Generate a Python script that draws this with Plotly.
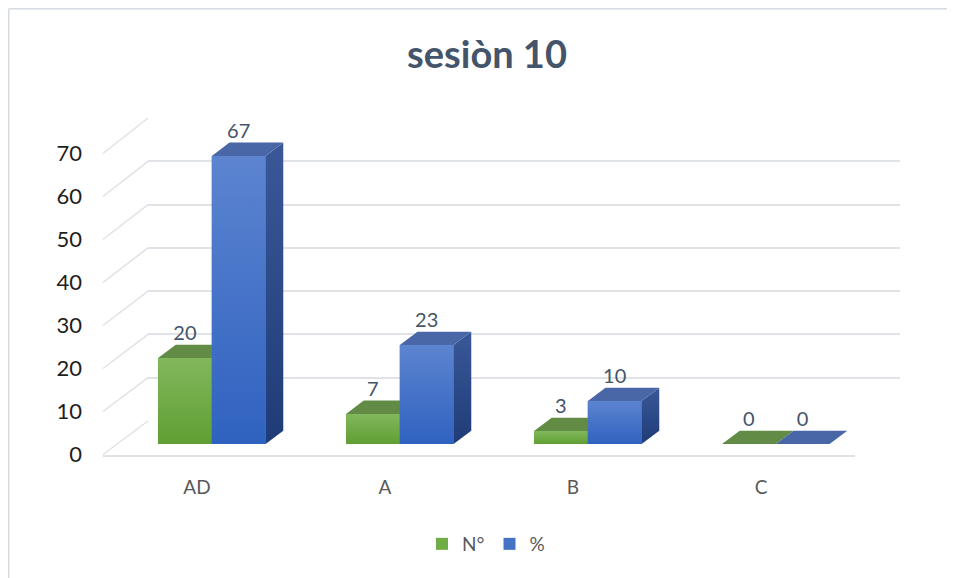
import plotly.graph_objects as go

# ---------------- data ----------------
categories = ["AD", "A", "B", "C"]
n_values = [20, 7, 3, 0]          # N°
pct_values = [67, 23, 10, 0]      # %
series_names = ["N°", "%"]
y_ticks = [0, 10, 20, 30, 40, 50, 60, 70]

# ---------------- styling / geometry ----------------
OFF = 8                      # page body margin
W, H = 955 - OFF, 578 - OFF
FONT = "Lato"


def px(x):
    return (x - OFF) / W


def py(y):
    return 1 - (y - OFF) / H


# front plane (tick labels), back wall (grid), middle plane (bars) in screen pixels
FRONT_X = (103, 855)
FRONT_Y = (454.5, 153.5)
BACK_X = (148, 900)
BACK_Y = (421, 118)
BAR_X = (117.8, 869.8)
BAR_BASE = 444
Y_MAX = 70
BAR_AX_MAX = 85              # extra headroom so labels stay inside the bar axis
BARGAP = 0.428
DEPTH_PX = (17.7, 13.3)

cat_px = (BAR_X[1] - BAR_X[0]) / len(categories)
unit_px = (FRONT_Y[0] - FRONT_Y[1]) / Y_MAX
BAR_TOP = BAR_BASE - unit_px * BAR_AX_MAX
DX = DEPTH_PX[0] / cat_px
DY = DEPTH_PX[1] / unit_px
BW = (1 - BARGAP) / 2

grid_col = "#dfe2e7"
green = dict(bar="#70ad47", top_face="#628c45", side_top="#4f7a35", side_bot="#3d6a26",
             front_top="#82b85c", front_bot="#5f9f33")
blue = dict(bar="#4472c4", top_face="#4966a6", side_top="#3a5898", side_bot="#1f3c78",
            front_top="#5c84d0", front_bot="#2f62c0")
styles = [green, blue]
series = [n_values, pct_values]

fig = go.Figure()

# legend-carrying bar traces (front faces)
for name, vals, st in zip(series_names, series, styles):
    fig.add_trace(go.Bar(x=list(range(len(categories))), y=vals, name=name,
                         marker=dict(color=st["bar"], line=dict(width=0)),
                         xaxis="x3", yaxis="y3", hoverinfo="skip"))

# 3D faces computed from the values
for ci in range(len(categories)):
    for si, (vals, st) in enumerate(zip(series, styles)):
        v = vals[ci]
        xl = ci + (si - 1) * BW
        xr = xl + BW
        if v > 0:
            # front face with vertical gradient
            fig.add_trace(go.Scatter(
                x=[xl, xr, xr, xl, xl], y=[0, 0, v, v, 0], fill="toself", mode="none",
                fillcolor=st["bar"],
                fillgradient=dict(type="vertical",
                                  colorscale=[[0, st["front_bot"]], [1, st["front_top"]]]),
                xaxis="x3", yaxis="y3", showlegend=False, hoverinfo="skip"))
            # side face
            fig.add_trace(go.Scatter(
                x=[xr, xr + DX, xr + DX, xr, xr], y=[0, DY, v + DY, v, 0],
                fill="toself", mode="none", fillcolor=st["side_bot"],
                fillgradient=dict(type="vertical",
                                  colorscale=[[0, st["side_bot"]], [1, st["side_top"]]]),
                xaxis="x3", yaxis="y3", showlegend=False, hoverinfo="skip"))
        # top face
        fig.add_trace(go.Scatter(
            x=[xl, xr, xr + DX, xl + DX, xl], y=[v, v, v + DY, v + DY, v],
            fill="toself", mode="none", fillcolor=st["top_face"],
            xaxis="x3", yaxis="y3", showlegend=False, hoverinfo="skip"))

# data labels
for si, vals in enumerate(series):
    xs = [ci + (si - 1) * BW + BW / 2 for ci in range(len(categories))]
    ys = [v + DY for v in vals]
    fig.add_trace(go.Scatter(
        x=xs, y=ys, mode="text", text=[str(v) for v in vals],
        textposition="top center", cliponaxis=False,
        textfont=dict(family=FONT, size=20, color="#44546a"),
        xaxis="x3", yaxis="y3", showlegend=False, hoverinfo="skip"))

# invisible traces to instantiate the front and back subplots
fig.add_trace(go.Scatter(x=[0], y=[0], mode="markers", marker=dict(opacity=0),
                         xaxis="x", yaxis="y", showlegend=False, hoverinfo="skip"))
fig.add_trace(go.Scatter(x=[0], y=[0], mode="markers", marker=dict(opacity=0),
                         xaxis="x2", yaxis="y2", showlegend=False, hoverinfo="skip"))

# diagonal floor/wall connectors
shapes = []
for v in y_ticks:
    fy = FRONT_Y[0] - (FRONT_Y[0] - FRONT_Y[1]) * v / Y_MAX
    by = BACK_Y[0] - (BACK_Y[0] - BACK_Y[1]) * v / Y_MAX
    shapes.append(dict(type="line", xref="paper", yref="paper",
                       x0=px(FRONT_X[0]), y0=py(fy), x1=px(BACK_X[0]), y1=py(by),
                       line=dict(color=grid_col, width=1.5), layer="below"))
# chart border (top and left edges)
shapes.append(dict(type="line", xref="paper", yref="paper", x0=0.0008, y0=0.9987,
                   x1=1, y1=0.9987, line=dict(color="#d6dbe2", width=1.5)))
shapes.append(dict(type="line", xref="paper", yref="paper", x0=0.0008, y0=0.9987,
                   x1=0.0008, y1=0, line=dict(color="#d6dbe2", width=1.5)))

fig.update_layout(
    width=W, height=H,
    margin=dict(l=0, r=0, t=0, b=0, autoexpand=False),
    paper_bgcolor="white", plot_bgcolor="rgba(0,0,0,0)",
    barmode="group", bargap=BARGAP, bargroupgap=0,
    title=dict(text="<b>sesiòn 10</b>", x=px(487), y=py(55), xanchor="center",
               yanchor="middle", font=dict(family=FONT, size=38, color="#44546a")),
    legend=dict(orientation="h", x=px(486), y=py(544), xanchor="center", yanchor="middle",
                font=dict(family=FONT, size=19, color="#595959"), itemwidth=30,
                traceorder="normal"),
    shapes=shapes,
    xaxis=dict(domain=[px(FRONT_X[0]), px(FRONT_X[1])], range=[-0.5, 3.5],
               tickvals=list(range(len(categories))), ticktext=categories,
               showgrid=False, zeroline=False, showline=True, linecolor=grid_col,
               linewidth=1.5, ticks="", ticklabelstandoff=15,
               tickfont=dict(family=FONT, size=19, color="#595959"), anchor="y",
               fixedrange=True),
    yaxis=dict(domain=[py(FRONT_Y[0]), py(FRONT_Y[1])], range=[0, Y_MAX],
               tickvals=y_ticks, showgrid=False, zeroline=False, showline=False,
               ticks="", ticklabelstandoff=20,
               tickfont=dict(family=FONT, size=22, color="#1e1e1e"), anchor="x",
               fixedrange=True),
    xaxis2=dict(domain=[px(BACK_X[0]), px(BACK_X[1])], range=[-0.5, 3.5], visible=True,
                showticklabels=False, showgrid=False, zeroline=False, showline=False,
                ticks="", anchor="y2", fixedrange=True),
    yaxis2=dict(domain=[py(BACK_Y[0]), py(BACK_Y[1])], range=[-0.01, Y_MAX + 0.01],
                tickvals=y_ticks, showticklabels=False, showgrid=True, gridcolor=grid_col,
                gridwidth=1.5, zeroline=False, showline=False, ticks="", anchor="x2",
                fixedrange=True),
    xaxis3=dict(domain=[px(BAR_X[0]), px(BAR_X[1])], range=[-0.5, 3.5], visible=False,
                anchor="y3", fixedrange=True),
    yaxis3=dict(domain=[py(BAR_BASE), py(BAR_TOP)], range=[0, BAR_AX_MAX], visible=False,
                anchor="x3", fixedrange=True),
)

fig.write_html("out.html")
